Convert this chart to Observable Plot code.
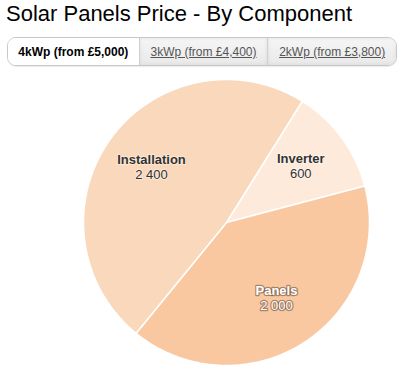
<!DOCTYPE html>
<html>
<head>
<meta charset="utf-8">
<script src="https://cdn.jsdelivr.net/npm/d3@7"></script>
<script src="https://cdn.jsdelivr.net/npm/@observablehq/plot@0.6"></script>
<style>
  html, body { margin: 0; padding: 0; background: #fff; width: 418px; height: 372px; overflow: hidden; }
  body { font-family: "Liberation Sans", Arial, sans-serif; position: relative; }
  #title { position: absolute; left: 6px; top: 0px; font-size: 22px; color: #000; white-space: nowrap; line-height: 28px; }
  #tabs { position: absolute; left: 7px; top: 37px; width: 388px; height: 27px; border: 1px solid #c8c8c8; border-radius: 9px; display: flex; overflow: hidden; box-shadow: 0 1px 1px rgba(0,0,0,0.08); }
  .tab { height: 27px; line-height: 28px; font-size: 12px; text-align: center; white-space: nowrap; }
  .tab.active { width: 131px; background: #fff; color: #000; font-weight: bold; }
  .tab.other { background: linear-gradient(#f6f6f6, #e9e9e9); color: #555; text-decoration: underline; border-left: 1px solid #d0d0d0; box-shadow: inset 0 0 4px rgba(0,0,0,0.08); }
  #chart { position: absolute; left: 0; top: 70px; }
</style>
</head>
<body>
<div id="title"></div>
<div id="tabs"></div>
<div id="chart"></div>
<script>
const titleText = "Solar Panels Price - By Component";
const tabLabels = ["4kWp (from £5,000)", "3kWp (from £4,400)", "2kWp (from £3,800)"];
const categories = ["Inverter", "Panels", "Installation"];
const values = [600, 2000, 2400];
const colors = ["#FDEADB", "#FAC8A0", "#FAD8BB"];
const labelColors = ["#333333", "#ffffff", "#333333"];

document.getElementById("title").textContent = titleText;
const tabs = document.getElementById("tabs");
tabLabels.forEach((t, i) => {
  const d = document.createElement("div");
  d.className = "tab " + (i === 0 ? "active" : "other");
  if (i === 1) d.style.width = "128px";
  if (i === 2) d.style.width = "128px";
  d.textContent = t;
  tabs.appendChild(d);
});

const startAngle = 32 * Math.PI / 180;
const pie = d3.pie().sort(null).startAngle(startAngle).endAngle(startAngle + 2 * Math.PI);
const arcs = pie(values);

// Build slice outlines (unit circle coordinates) from the pie layout
const slicePts = [];
arcs.forEach((a, i) => {
  const n = 120;
  slicePts.push({cat: categories[i], x: 0, y: 0});
  for (let k = 0; k <= n; k++) {
    const t = a.startAngle + (a.endAngle - a.startAngle) * k / n;
    slicePts.push({cat: categories[i], x: Math.sin(t), y: Math.cos(t)});
  }
  slicePts.push({cat: categories[i], x: 0, y: 0});
});

const fmt = v => d3.format(",")(v).replace(/,/g, " ");
const labels = arcs.map((a, i) => {
  const m = (a.startAngle + a.endAngle) / 2;
  return {cat: categories[i], value: fmt(values[i]), x: 0.645 * Math.sin(m), y: 0.645 * Math.cos(m), color: labelColors[i]};
});
const dark = labels.filter(d => d.color !== "#ffffff");
const light = labels.filter(d => d.color === "#ffffff");

const chart = Plot.plot({
  width: 418,
  height: 302,
  marginLeft: 83,
  marginRight: 49,
  marginTop: 9,
  marginBottom: 7,
  x: {domain: [-1, 1], axis: null},
  y: {domain: [-1, 1], axis: null},
  color: {domain: categories, range: colors},
  style: {fontFamily: "Liberation Sans, Arial, sans-serif", background: "transparent"},
  marks: [
    Plot.line(slicePts, {x: "x", y: "y", z: "cat", fill: "cat", stroke: "#fff", strokeWidth: 1.5, strokeLinejoin: "round", curve: "linear"}),
    Plot.text(dark, {x: "x", y: "y", text: "cat", dy: -9, fontWeight: "bold", fontSize: 13, fill: "color", stroke: "rgba(255,255,255,0.4)", strokeWidth: 2}),
    Plot.text(dark, {x: "x", y: "y", text: "value", dy: 6, fontSize: 13, fill: "color", stroke: "rgba(255,255,255,0.4)", strokeWidth: 2}),
    Plot.text(light, {x: "x", y: "y", text: "cat", dy: -9, fontWeight: "bold", fontSize: 13, fill: "color", stroke: "rgba(60,40,30,0.45)", strokeWidth: 2.5}),
    Plot.text(light, {x: "x", y: "y", text: "value", dy: 6, fontSize: 13, fill: "color", stroke: "rgba(60,40,30,0.45)", strokeWidth: 2.5})
  ]
});
document.getElementById("chart").appendChild(chart);
</script>
</body>
</html>
